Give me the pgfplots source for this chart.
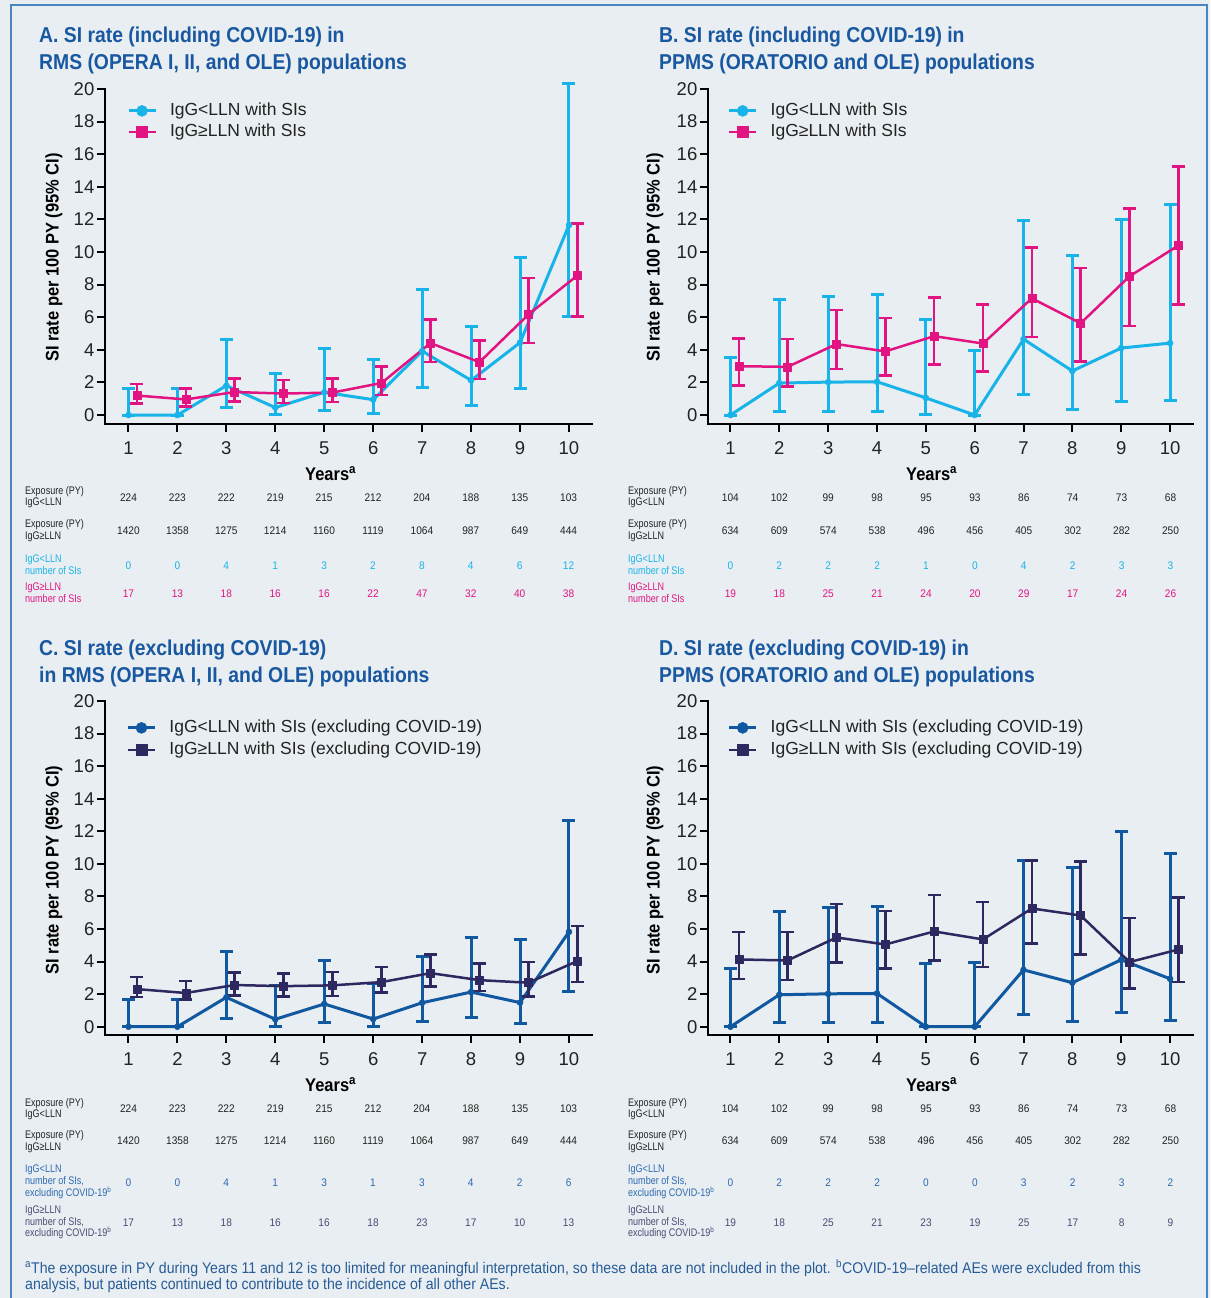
\documentclass[border=0pt]{standalone}
\usepackage{fontspec}
\setmainfont{Liberation Sans}
\newfontfamily\bcond[FakeStretch=0.9]{Liberation Sans}
\newfontfamily\tcond[FakeStretch=0.82]{Liberation Sans}
\newfontfamily\vcond[FakeStretch=0.92]{Liberation Sans}
\newfontfamily\fcond[FakeStretch=0.91]{Liberation Sans}
\usepackage{pgfplots}
\usepackage{pgfplotstable}
\pgfplotsset{compat=1.18}

\definecolor{bgC}{RGB}{232,238,242}
\definecolor{bordC}{RGB}{74,134,192}
\definecolor{titC}{RGB}{25,88,160}
\definecolor{cyC}{RGB}{24,180,233}
\definecolor{mgC}{RGB}{226,20,130}
\definecolor{blC}{RGB}{16,88,160}
\definecolor{nvC}{RGB}{45,40,95}
\definecolor{txC}{RGB}{34,34,34}
\definecolor{fnC}{RGB}{40,92,150}
\definecolor{rowblC}{RGB}{45,105,175}
\definecolor{rownvC}{RGB}{75,75,115}

% ---------- data: x, rate, lower 95% CI, upper 95% CI ----------
\pgfplotstableread{
x y lo hi
1 0 0 1.647
2 0 0 1.654
3 1.802 0.491 4.614
4 0.457 0.012 2.544
5 1.395 0.288 4.078
6 0.943 0.114 3.408
7 3.922 1.693 7.727
8 2.128 0.580 5.448
9 4.444 1.631 9.673
10 11.650 6.020 20.351
}\tabAlow
\pgfplotstableread{
x y lo hi
1.17 1.197 0.697 1.917
2.17 0.957 0.510 1.637
3.17 1.412 0.837 2.231
4.17 1.318 0.753 2.140
5.17 1.379 0.788 2.240
6.17 1.966 1.232 2.977
7.17 4.417 3.245 5.874
8.17 3.242 2.218 4.577
9.17 6.163 4.404 8.393
10.17 8.559 6.056 11.748
}\tabAhigh
\pgfplotstableread{
x y lo hi
1 0 0 3.547
2 1.961 0.237 7.083
3 2.020 0.244 7.298
4 2.041 0.247 7.372
5 1.053 0.027 5.865
6 0 0 3.967
7 4.651 1.267 11.909
8 2.703 0.327 9.764
9 4.110 0.848 12.010
10 4.412 0.910 12.893
}\tabBlow
\pgfplotstableread{
x y lo hi
1.17 2.997 1.804 4.680
2.17 2.956 1.752 4.671
3.17 4.355 2.819 6.429
4.17 3.903 2.416 5.967
5.17 4.839 3.100 7.200
6.17 4.386 2.679 6.774
7.17 7.160 4.795 10.284
8.17 5.629 3.279 9.013
9.17 8.511 5.453 12.663
10.17 10.400 6.794 15.238
}\tabBhigh
\pgfplotstableread{
x y lo hi
1 0 0 1.647
2 0 0 1.654
3 1.802 0.491 4.614
4 0.457 0.012 2.544
5 1.395 0.288 4.078
6 0.472 0.012 2.628
7 1.471 0.303 4.298
8 2.128 0.580 5.448
9 1.481 0.179 5.352
10 5.825 2.138 12.679
}\tabClow
\pgfplotstableread{
x y lo hi
1.17 2.31 1.82 3.05
2.17 2.07 1.66 2.80
3.17 2.56 1.92 3.33
4.17 2.49 1.86 3.27
5.17 2.54 1.88 3.37
6.17 2.74 2.09 3.68
7.17 3.29 2.47 4.42
8.17 2.86 2.19 3.89
9.17 2.70 1.86 3.97
10.17 4.03 2.74 6.18
}\tabChigh
\pgfplotstableread{
x y lo hi
1 0 0 3.547
2 1.961 0.237 7.083
3 2.020 0.244 7.298
4 2.041 0.247 7.372
5 0 0 3.883
6 0 0 3.967
7 3.488 0.720 10.194
8 2.703 0.327 9.764
9 4.110 0.848 12.010
10 2.941 0.356 10.625
}\tabDlow
\pgfplotstableread{
x y lo hi
1.17 4.13 2.94 5.81
2.17 4.07 2.88 5.81
3.17 5.48 3.95 7.53
4.17 5.05 3.58 7.10
5.17 5.85 4.07 8.08
6.17 5.36 3.66 7.67
7.17 7.26 5.11 10.20
8.17 6.83 4.44 10.14
9.17 3.97 2.35 6.69
10.17 4.74 2.76 7.93
}\tabDhigh

\pgfplotsset{
  panel/.style={
    scale only axis, width=487pt, height=335pt,
    axis lines=left, axis line style={-, line width=2.2pt, draw=black, line cap=rect},
    xmin=0.52, xmax=10.47, ymin=-0.55, ymax=20,
    xtick={1,...,10}, ytick={0,2,...,20},
    /pgf/number format/assume math mode=true,
    tick align=outside, major tick length=8pt,
    tick style={line width=2pt, draw=black},
    ticklabel style={font=\fontsize{18.5}{20}\selectfont, text=txC},
    xticklabel style={anchor=north, inner sep=0pt, yshift=-9.5pt},
    yticklabel style={anchor=east, inner sep=0pt, xshift=-2.5pt},
    clip=false,
    legend cell align=left,
    legend image code/.code={\draw[mark repeat=2, mark phase=2, ##1, mark size=5.5pt] plot coordinates {(0pt,0pt) (13.5pt,0pt) (27pt,0pt)};},
    legend style={anchor=north west, draw=none, fill=none, inner sep=0pt, outer sep=0pt,
      font=\fontsize{17.5}{19}\selectfont, text=txC, row sep=4pt,
      nodes={inner sep=0pt, text height=13pt, text depth=4pt},
      /tikz/every odd column/.append style={column sep=13pt}},
  },
  errs/.style={error bars/y dir=both, error bars/y explicit,
    error bars/error bar style={line width=#1},
    error bars/error mark options={rotate=90, line width=#1, mark size=6.5pt}},
  lowS/.style={color=#1, line width=3pt, line join=round, mark=*, mark size=3pt,
    mark options={solid, line width=0.5pt}, errs=3pt},
  highS/.style={color=#1, line width=2.5pt, line join=round, mark=square*, mark size=4pt,
    mark options={solid, line width=0.5pt}, errs=2.5pt},
}

\newcommand\vals[4]{\foreach \v [count=\i from 0] in {#4} {\node[text=#3] at ({#1+48.9*\i},#2) {\v};}}

\begin{document}
\begin{tikzpicture}[x=1pt,y=-1pt]
\fill[bgC] (0,0) rectangle (1210,1298);
\draw[bordC, line width=2pt] (10.5,1298) -- (10.5,5) -- (1206.5,5) -- (1206.5,1298);

% ---------- titles ----------
\begin{scope}[every node/.style={anchor=base west, inner sep=0pt, text=titC, font=\bcond\bfseries\fontsize{21.5}{24}\selectfont}]
\node at (39,43) {A. SI rate (including COVID-19) in};
\node at (39,70) {RMS (OPERA I, II, and OLE) populations};
\node at (659,43) {B. SI rate (including COVID-19) in};
\node at (659,70) {PPMS (ORATORIO and OLE) populations};
\node at (39,655) {C. SI rate (excluding COVID-19)};
\node at (39,682) {in RMS (OPERA I, II, and OLE) populations};
\node at (659,655) {D. SI rate (excluding COVID-19) in};
\node at (659,682) {PPMS (ORATORIO and OLE) populations};
\end{scope}

% ---------- y labels and x labels ----------
\begin{scope}[every node/.style={inner sep=0pt, text=black, font=\bcond\bfseries\fontsize{18.3}{20}\selectfont}]
\node[rotate=90] at (54,257.5) {SI rate per 100 PY (95\% CI)};
\node[rotate=90] at (655,257.5) {SI rate per 100 PY (95\% CI)};
\node[rotate=90] at (54,870) {SI rate per 100 PY (95\% CI)};
\node[rotate=90] at (655,870) {SI rate per 100 PY (95\% CI)};
\node[anchor=base west] at (305,480) {Years\textsuperscript{a}};
\node[anchor=base west] at (906,480) {Years\textsuperscript{a}};
\node[anchor=base west] at (305,1091) {Years\textsuperscript{a}};
\node[anchor=base west] at (906,1091) {Years\textsuperscript{a}};
\end{scope}

% ---------- panel A ----------
\begin{axis}[panel, at={(105pt,-424pt)}, anchor=south west,
  legend style={at={(0.0452,0.960)}}]
\addplot[lowS=cyC] table[x=x, y=y, y error plus expr=\thisrow{hi}-\thisrow{y}, y error minus expr=\thisrow{y}-\thisrow{lo}] {\tabAlow};
\addlegendentry{IgG<LLN with SIs}
\addplot[highS=mgC] table[x=x, y=y, y error plus expr=\thisrow{hi}-\thisrow{y}, y error minus expr=\thisrow{y}-\thisrow{lo}] {\tabAhigh};
\addlegendentry{IgG≥LLN with SIs}
\end{axis}

% ---------- panel B ----------
\begin{axis}[panel, at={(708pt,-424pt)}, anchor=south west, width=485pt, xmin=0.54,
  legend style={at={(0.0406,0.960)}}]
\addplot[lowS=cyC] table[x=x, y=y, y error plus expr=\thisrow{hi}-\thisrow{y}, y error minus expr=\thisrow{y}-\thisrow{lo}] {\tabBlow};
\addlegendentry{IgG<LLN with SIs}
\addplot[highS=mgC] table[x=x, y=y, y error plus expr=\thisrow{hi}-\thisrow{y}, y error minus expr=\thisrow{y}-\thisrow{lo}] {\tabBhigh};
\addlegendentry{IgG≥LLN with SIs}
\end{axis}

% ---------- panel C ----------
\begin{axis}[panel, at={(105pt,-1035pt)}, anchor=south west, height=334pt, ymin=-0.51,
  legend style={at={(0.0441,0.945)}, row sep=5pt}]
\addplot[lowS=blC] table[x=x, y=y, y error plus expr=\thisrow{hi}-\thisrow{y}, y error minus expr=\thisrow{y}-\thisrow{lo}] {\tabClow};
\addlegendentry{IgG<LLN with SIs (excluding COVID-19)}
\addplot[highS=nvC] table[x=x, y=y, y error plus expr=\thisrow{hi}-\thisrow{y}, y error minus expr=\thisrow{y}-\thisrow{lo}] {\tabChigh};
\addlegendentry{IgG≥LLN with SIs (excluding COVID-19)}
\end{axis}

% ---------- panel D ----------
\begin{axis}[panel, at={(708pt,-1035pt)}, anchor=south west, width=485pt, xmin=0.54, height=334pt, ymin=-0.51,
  legend style={at={(0.0406,0.945)}, row sep=5pt}]
\addplot[lowS=blC] table[x=x, y=y, y error plus expr=\thisrow{hi}-\thisrow{y}, y error minus expr=\thisrow{y}-\thisrow{lo}] {\tabDlow};
\addlegendentry{IgG<LLN with SIs (excluding COVID-19)}
\addplot[highS=nvC] table[x=x, y=y, y error plus expr=\thisrow{hi}-\thisrow{y}, y error minus expr=\thisrow{y}-\thisrow{lo}] {\tabDhigh};
\addlegendentry{IgG≥LLN with SIs (excluding COVID-19)}
\end{axis}

% ---------- tables under the plots ----------
\begin{scope}[every node/.style={anchor=west, align=left, inner sep=0pt, font=\tcond\fontsize{11}{11.6}\selectfont}]
\node[text=txC] at (25,497.3) {Exposure (PY)\\IgG<LLN};
\node[text=txC] at (25,530.8) {Exposure (PY)\\IgG≥LLN};
\node[text=cyC] at (25,565) {IgG<LLN\\number of SIs};
\node[text=mgC] at (25,592.5) {IgG≥LLN\\number of SIs};
\node[text=txC] at (628,497.3) {Exposure (PY)\\IgG<LLN};
\node[text=txC] at (628,530.8) {Exposure (PY)\\IgG≥LLN};
\node[text=cyC] at (628,565) {IgG<LLN\\number of SIs};
\node[text=mgC] at (628,592.5) {IgG≥LLN\\number of SIs};
\node[text=txC] at (25,1109.2) {Exposure (PY)\\IgG<LLN};
\node[text=txC] at (25,1141.7) {Exposure (PY)\\IgG≥LLN};
\node[text=rowblC] at (25,1181.7) {IgG<LLN\\number of SIs,\\excluding COVID-19\textsuperscript{b}};
\node[text=rownvC] at (25,1222.6) {IgG≥LLN\\number of SIs,\\excluding COVID-19\textsuperscript{b}};
\node[text=txC] at (628,1109.2) {Exposure (PY)\\IgG<LLN};
\node[text=txC] at (628,1141.7) {Exposure (PY)\\IgG≥LLN};
\node[text=rowblC] at (628,1181.7) {IgG<LLN\\number of SIs,\\excluding COVID-19\textsuperscript{b}};
\node[text=rownvC] at (628,1222.6) {IgG≥LLN\\number of SIs,\\excluding COVID-19\textsuperscript{b}};
\end{scope}
\begin{scope}[every node/.style={inner sep=0pt, font=\vcond\fontsize{11}{12}\selectfont}]
\vals{128.5}{497.3}{txC}{224,223,222,219,215,212,204,188,135,103}
\vals{128.5}{530.7}{txC}{1420,1358,1275,1214,1160,1119,1064,987,649,444}
\vals{128.5}{565.7}{cyC}{0,0,4,1,3,2,8,4,6,12}
\vals{128.5}{593.3}{mgC}{17,13,18,16,16,22,47,32,40,38}
\vals{730.4}{497.3}{txC}{104,102,99,98,95,93,86,74,73,68}
\vals{730.4}{530.7}{txC}{634,609,574,538,496,456,405,302,282,250}
\vals{730.4}{565.7}{cyC}{0,2,2,2,1,0,4,2,3,3}
\vals{730.4}{593.3}{mgC}{19,18,25,21,24,20,29,17,24,26}
\vals{128.5}{1108.3}{txC}{224,223,222,219,215,212,204,188,135,103}
\vals{128.5}{1141}{txC}{1420,1358,1275,1214,1160,1119,1064,987,649,444}
\vals{128.5}{1182.7}{rowblC}{0,0,4,1,3,1,3,4,2,6}
\vals{128.5}{1222.7}{rownvC}{17,13,18,16,16,18,23,17,10,13}
\vals{730.4}{1108.3}{txC}{104,102,99,98,95,93,86,74,73,68}
\vals{730.4}{1141}{txC}{634,609,574,538,496,456,405,302,282,250}
\vals{730.4}{1182.7}{rowblC}{0,2,2,2,0,0,3,2,3,2}
\vals{730.4}{1222.7}{rownvC}{19,18,25,21,23,19,25,17,8,9}
\end{scope}

% ---------- footnote ----------
\begin{scope}[every node/.style={anchor=base west, inner sep=0pt, text=fnC, font=\fcond\fontsize{15.5}{16}\selectfont}]
\node at (25,1273) {\textsuperscript{a}The exposure in PY during Years 11 and 12 is too limited for meaningful interpretation, so these data are not included in the plot. \textsuperscript{b}COVID-19–related AEs were excluded from this};
\node at (25,1289) {analysis, but patients continued to contribute to the incidence of all other AEs.};
\end{scope}

\pgfresetboundingbox
\path[use as bounding box] (0,0) rectangle (1210,1298);
\end{tikzpicture}
\end{document}
